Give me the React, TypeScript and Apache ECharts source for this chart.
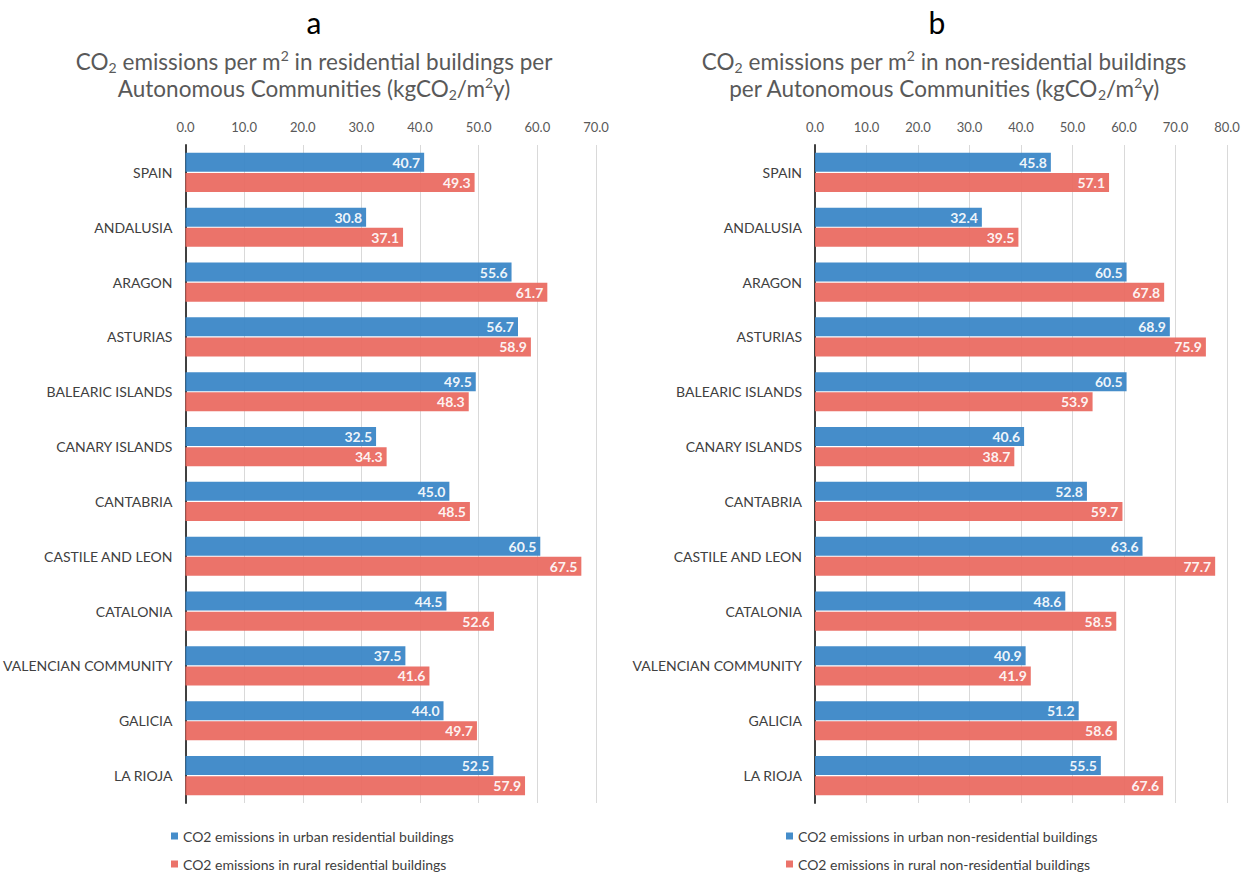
import React, { useEffect, useRef } from "react";
import * as echarts from "echarts";

const categories = [
  "SPAIN",
  "ANDALUSIA",
  "ARAGON",
  "ASTURIAS",
  "BALEARIC ISLANDS",
  "CANARY ISLANDS",
  "CANTABRIA",
  "CASTILE AND LEON",
  "CATALONIA",
  "VALENCIAN COMMUNITY",
  "GALICIA",
  "LA RIOJA",
];

const resUrban = [40.7, 30.8, 55.6, 56.7, 49.5, 32.5, 45.0, 60.5, 44.5, 37.5, 44.0, 52.5];
const resRural = [49.3, 37.1, 61.7, 58.9, 48.3, 34.3, 48.5, 67.5, 52.6, 41.6, 49.7, 57.9];
const nonResUrban = [45.8, 32.4, 60.5, 68.9, 60.5, 40.6, 52.8, 63.6, 48.6, 40.9, 51.2, 55.5];
const nonResRural = [57.1, 39.5, 67.8, 75.9, 53.9, 38.7, 59.7, 77.7, 58.5, 41.9, 58.6, 67.6];

const seriesNames = [
  "CO2 emissions in urban residential buildings",
  "CO2 emissions in rural residential buildings",
  "CO2 emissions in urban non-residential buildings",
  "CO2 emissions in rural non-residential buildings",
];

const FONT = "Lato, 'Open Sans', sans-serif";
const BLUE = "#3784c6";
const RED = "#e9685f";

const titleRich = {
  n: { fontSize: 22.5, fontFamily: FONT, fill: "#595959", lineHeight: 27 },
  sub: { fontSize: 14, fontFamily: FONT, fill: "#595959", padding: [12, 0, 0, 0] },
  sup: { fontSize: 14, fontFamily: FONT, fill: "#595959", padding: [0, 0, 12, 0] },
};

const titleA =
  "{n|CO}{sub|2}{n| emissions per m}{sup|2}{n| in residential buildings per}\n{n|Autonomous Communities (kgCO}{sub|2}{n|/m}{sup|2}{n|y)}";
const titleB =
  "{n|CO}{sub|2}{n| emissions per m}{sup|2}{n| in non-residential buildings}\n{n|per Autonomous Communities (kgCO}{sub|2}{n|/m}{sup|2}{n|y)}";

function makeXAxis(gridIndex: number, max: number) {
  return {
    gridIndex,
    type: "value",
    position: "top",
    min: 0,
    max,
    interval: 10,
    axisLine: { show: false },
    axisTick: { show: false },
    axisLabel: {
      formatter: (v: number) => v.toFixed(1),
      color: "#595959",
      fontSize: 13,
      fontFamily: FONT,
      margin: 12,
    },
    splitLine: { lineStyle: { color: "#d9d9d9", width: 1 } },
  };
}

function makeYAxis(gridIndex: number) {
  return {
    gridIndex,
    type: "category",
    inverse: true,
    data: categories,
    axisLine: { lineStyle: { color: "#404040", width: 2 } },
    axisTick: { show: false },
    axisLabel: { color: "#404040", fontSize: 14, fontFamily: FONT, margin: 13 },
  };
}

function makeSeries(name: string, data: number[], color: string, idx: number) {
  return {
    name,
    type: "bar",
    xAxisIndex: idx,
    yAxisIndex: idx,
    data,
    barWidth: 19,
    barGap: "6%",
    itemStyle: { color, opacity: 0.93 },
    label: {
      show: true,
      position: "insideRight",
      distance: 4,
      color: "#ffffff",
      fontWeight: "bold",
      fontSize: 14,
      fontFamily: FONT,
      formatter: (p: any) => Number(p.value).toFixed(1),
    },
  };
}

function makeLegend(name: string, left: number, top: number) {
  return {
    data: [name],
    orient: "horizontal",
    left,
    top,
    padding: 0,
    itemWidth: 7,
    itemHeight: 7,
    icon: "rect",
    textStyle: { color: "#404040", fontSize: 14, fontFamily: FONT, lineHeight: 16 },
  };
}

export default function App() {
  const ref = useRef<HTMLDivElement>(null);
  useEffect(() => {
    const chart = echarts.init(ref.current!, null, { renderer: "svg" });
    const option: any = {
      animation: false,
      backgroundColor: "#ffffff",
      textStyle: { fontFamily: FONT },
      grid: [
        { left: 184, top: 145, width: 412, height: 658 },
        { left: 815, top: 145, width: 412, height: 658 },
      ],
      xAxis: [makeXAxis(0, 70), makeXAxis(1, 80)],
      yAxis: [makeYAxis(0), makeYAxis(1)],
      legend: [
        makeLegend(seriesNames[0], 171, 828),
        makeLegend(seriesNames[1], 171, 856),
        makeLegend(seriesNames[2], 786, 828),
        makeLegend(seriesNames[3], 786, 856),
      ],
      graphic: [
        {
          type: "text",
          x: 314,
          y: 22,
          style: { text: "a", fontSize: 30, fontFamily: FONT, fill: "#000", align: "center", verticalAlign: "middle" },
        },
        {
          type: "text",
          x: 937,
          y: 22,
          style: { text: "b", fontSize: 30, fontFamily: FONT, fill: "#000", align: "center", verticalAlign: "middle" },
        },
        {
          type: "text",
          x: 314,
          y: 75,
          style: { text: titleA, rich: titleRich, align: "center", verticalAlign: "middle" },
        },
        {
          type: "text",
          x: 944,
          y: 75,
          style: { text: titleB, rich: titleRich, align: "center", verticalAlign: "middle" },
        },
      ],
      series: [
        makeSeries(seriesNames[0], resUrban, BLUE, 0),
        makeSeries(seriesNames[1], resRural, RED, 0),
        makeSeries(seriesNames[2], nonResUrban, BLUE, 1),
        makeSeries(seriesNames[3], nonResRural, RED, 1),
      ],
    };
    chart.setOption(option);
    return () => chart.dispose();
  }, []);
  return (
    <div
      ref={ref}
      style={{ position: "fixed", left: 0, top: 0, width: 1255, height: 873, background: "#fff" }}
    />
  );
}
